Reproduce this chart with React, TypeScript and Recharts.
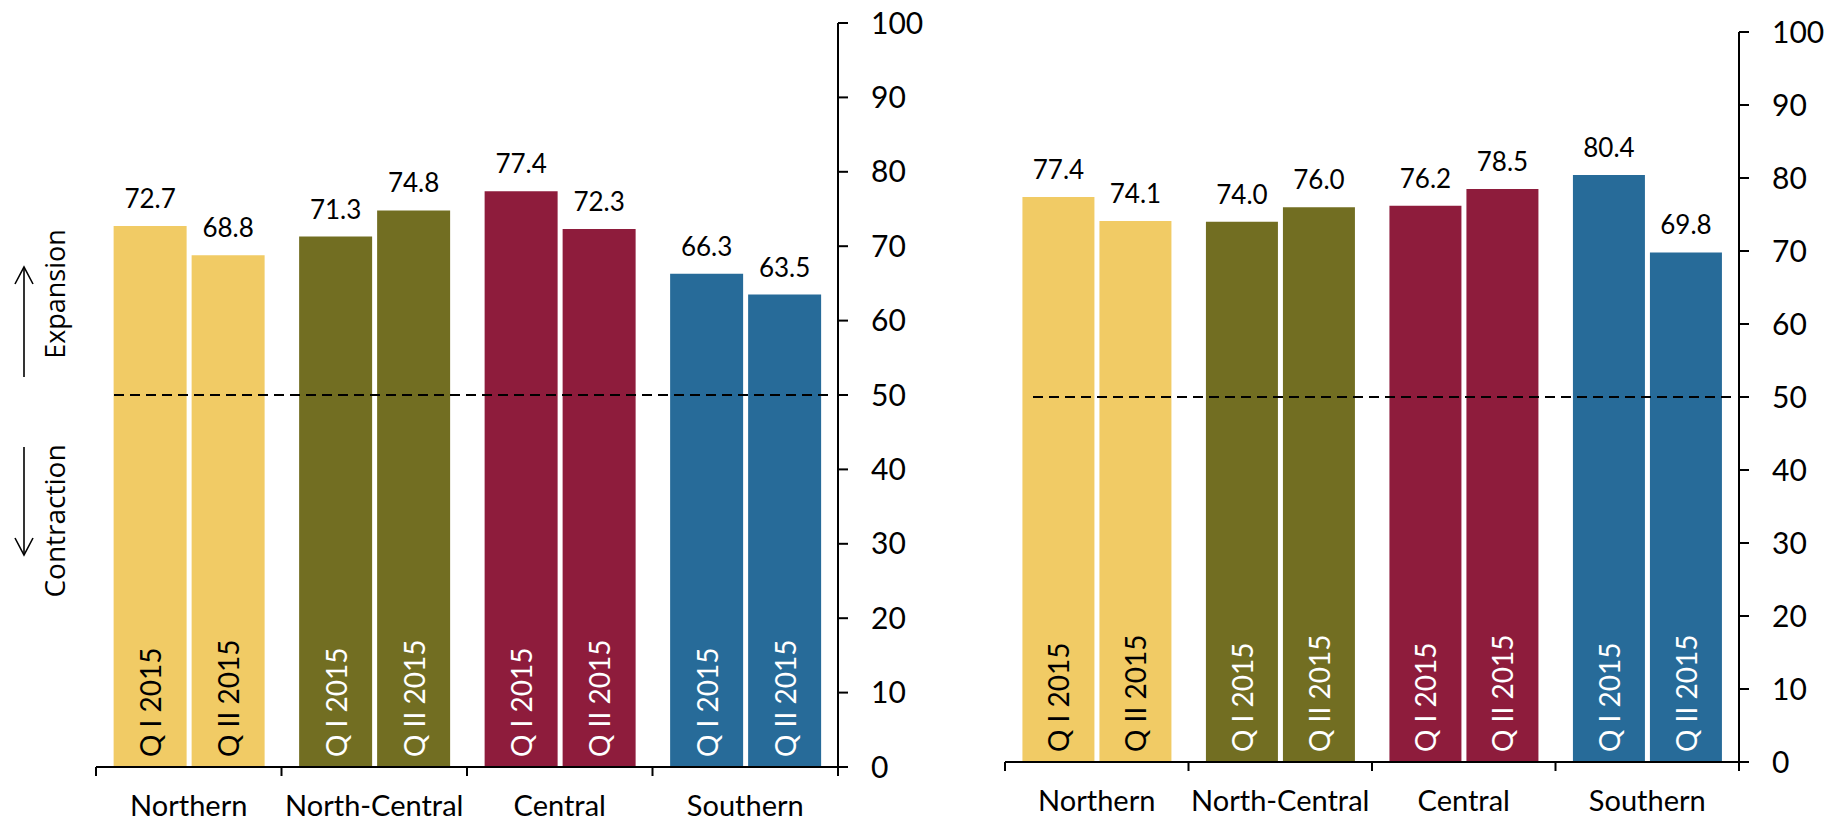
import { Bar, BarChart, Cell, LabelList, ReferenceLine, XAxis, YAxis } from "recharts";

const regions = ["Northern", "North-Central", "Central", "Southern"];
const quarterLabels = ["Q I 2015", "Q II 2015"];
const regionColors = ["#F1CB65", "#726E22", "#8E1C3C", "#276B99"];
const inBarTextColors = ["#000000", "#ffffff", "#ffffff", "#ffffff"];

// left panel
const leftQ1 = [72.7, 71.3, 77.4, 66.3];
const leftQ2 = [68.8, 74.8, 72.3, 63.5];
// right panel
const rightQ1 = [77.4, 74.0, 76.2, 80.4];
const rightQ2 = [74.1, 76.0, 78.5, 69.8];

const yTicks = [0, 10, 20, 30, 40, 50, 60, 70, 80, 90, 100];
const threshold = 50;

const FONT = "Lato, 'Liberation Sans', sans-serif";
const NOTE_FONT = "'Open Sans', 'DejaVu Sans', sans-serif";

function toRows(q1: number[], q2: number[]) {
	return regions.map((region, i) => ({ region, q1: q1[i], q2: q2[i] }));
}

function RegionTick(props: any) {
	const { x, y, payload, index, band } = props;
	const half = band / 2;
	return (
		<g>
			<line x1={x - half} x2={x - half} y1={y} y2={y + 9} stroke="#000" strokeWidth={2} />
			{index === regions.length - 1 && (
				<line x1={x + half} x2={x + half} y1={y} y2={y + 9} stroke="#000" strokeWidth={2} />
			)}
			<text x={x} y={y + 37} textAnchor="middle" dominantBaseline="central" fontSize={29} fill="#000" fontFamily={FONT}>
				{payload.value}
			</text>
		</g>
	);
}

function quarterLabel(text: string) {
	return (props: any) => {
		const x = Number(props.x);
		const y = Number(props.y);
		const w = Number(props.width);
		const h = Number(props.height);
		const cx = x + w / 2;
		const bottom = y + h - 10;
		return (
			<text
				transform={`translate(${cx}, ${bottom}) rotate(-90)`}
				textAnchor="start"
				dominantBaseline="central"
				fontSize={28}
				fontFamily={FONT}
				fill={inBarTextColors[props.index]}
			>
				{text}
			</text>
		);
	};
}

type PanelProps = {
	q1: number[];
	q2: number[];
	left: number;
	width: number;
	plotLeft: number;
	plotRight: number;
	plotTop: number;
	plotBottom: number;
	dashInset: [number, number];
};

const HEIGHT = 822;
const X_AXIS_H = 50;

function Panel({ q1, q2, left, width, plotLeft, plotRight, plotTop, plotBottom, dashInset }: PanelProps) {
	const data = toRows(q1, q2);
	const band = (plotRight - plotLeft) / regions.length;
	const yAxisWidth = width - plotRight;
	return (
		<div style={{ position: "absolute", left, top: 0 }}>
			<BarChart
				width={width}
				height={HEIGHT}
				data={data}
				margin={{ top: plotTop, right: 0, bottom: HEIGHT - plotBottom - X_AXIS_H, left: plotLeft }}
				barGap={5}
				barCategoryGap="9.5%"
			>
				<XAxis
					dataKey="region"
					height={X_AXIS_H}
					interval={0}
					tickLine={false}
					tickSize={0}
					tickMargin={0}
					axisLine={{ stroke: "#000", strokeWidth: 2 }}
					tick={(p: any) => <RegionTick {...p} band={band} />}
				/>
				<YAxis
					orientation="right"
					domain={[0, 100]}
					ticks={yTicks}
					interval={0}
					width={yAxisWidth}
					tickSize={10}
					tickMargin={23}
					axisLine={{ stroke: "#000", strokeWidth: 2 }}
					tickLine={{ stroke: "#000", strokeWidth: 2 }}
					tick={{ fontSize: 30, fill: "#000", fontFamily: FONT, textAnchor: "start" }}
				/>
				<Bar dataKey="q1" isAnimationActive={false}>
					{data.map((_, i) => (
						<Cell key={i} fill={regionColors[i]} />
					))}
					<LabelList
						dataKey="q1"
						position="top"
						offset={18}
						fontSize={26}
						fill="#000"
						fontFamily={FONT}
						formatter={(v: any) => Number(v).toFixed(1)}
					/>
					<LabelList dataKey="q1" content={quarterLabel(quarterLabels[0])} />
				</Bar>
				<Bar dataKey="q2" isAnimationActive={false}>
					{data.map((_, i) => (
						<Cell key={i} fill={regionColors[i]} />
					))}
					<LabelList
						dataKey="q2"
						position="top"
						offset={18}
						fontSize={26}
						fill="#000"
						fontFamily={FONT}
						formatter={(v: any) => Number(v).toFixed(1)}
					/>
					<LabelList dataKey="q2" content={quarterLabel(quarterLabels[1])} />
				</Bar>
				<ReferenceLine
					y={threshold}
					shape={(p: any) => {
						const a = Math.min(Number(p.x1), Number(p.x2));
						const b = Math.max(Number(p.x1), Number(p.x2));
						return (
							<line
								x1={a + dashInset[0]}
								x2={b - dashInset[1]}
								y1={p.y1}
								y2={p.y2}
								stroke="#000"
								strokeWidth={2}
								strokeDasharray="10 6"
							/>
						);
					}}
				/>
			</BarChart>
		</div>
	);
}

// Expansion / Contraction arrows on the far left
function DirectionNotes() {
	return (
		<svg width={120} height={HEIGHT} style={{ position: "absolute", left: 0, top: 0, pointerEvents: "none" }}>
			<g stroke="#000" strokeWidth={1.6} fill="none">
				<line x1={24} y1={377} x2={24} y2={267} />
				<polyline points="15,284 24,267 33,284" />
				<line x1={24} y1={447} x2={24} y2={555} />
				<polyline points="15,538 24,555 33,538" />
			</g>
			<text transform="translate(54, 294) rotate(-90)" textAnchor="middle" dominantBaseline="central" fontSize={27} fontFamily={NOTE_FONT} fill="#000">
				Expansion
			</text>
			<text transform="translate(54, 521) rotate(-90)" textAnchor="middle" dominantBaseline="central" fontSize={28} fontFamily={NOTE_FONT} fill="#000">
				Contraction
			</text>
		</svg>
	);
}

export default function App() {
	return (
		<div style={{ position: "absolute", left: 0, top: 0, width: 1830, height: HEIGHT, background: "#fff", fontFamily: FONT }}>
			<Panel q1={leftQ1} q2={leftQ2} left={0} width={930} plotLeft={96} plotRight={838} plotTop={23} plotBottom={767} dashInset={[18, 7]} />
			<Panel q1={rightQ1} q2={rightQ2} left={910} width={920} plotLeft={95} plotRight={829} plotTop={32} plotBottom={762} dashInset={[28, 7]} />
			<DirectionNotes />
		</div>
	);
}
